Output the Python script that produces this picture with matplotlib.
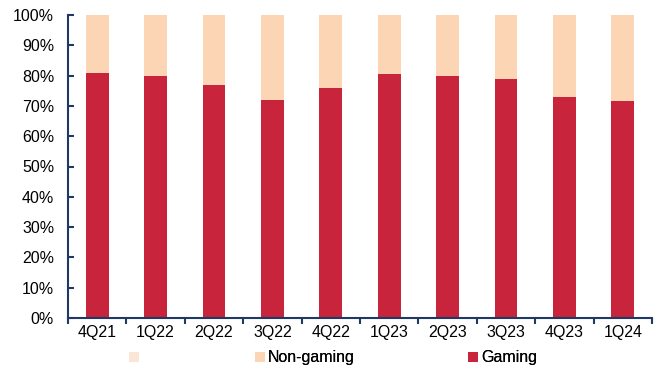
import matplotlib
matplotlib.use("Agg")
import matplotlib.pyplot as plt
from matplotlib.patches import Patch
import numpy as np

quarters = ["4Q21", "1Q22", "2Q22", "3Q22", "4Q22", "1Q23", "2Q23", "3Q23", "4Q23", "1Q24"]
gaming = [81.0, 80.0, 77.0, 72.0, 76.0, 80.5, 80.0, 78.8, 73.0, 71.5]
non_gaming = [100 - g for g in gaming]

red = "#C8243B"
peach = "#FCD5B5"
pale = "#FBE5D6"
navy = "#1F3864"

plt.rcParams["font.family"] = ["Liberation Sans", "DejaVu Sans"]
plt.rcParams["font.size"] = 11.5

fig = plt.figure(figsize=(6.6, 3.67), dpi=100)
ax = fig.add_axes([68/660, 49/367, 584/660, 303/367])

x = np.arange(len(quarters))
w = 0.39
ax.bar(x, gaming, width=w, color=red, edgecolor="none")
ax.bar(x, non_gaming, width=w, bottom=gaming, color=peach, edgecolor="none")

ax.set_xlim(-0.5, len(quarters) - 0.5)
ax.set_ylim(0, 100)
ax.set_yticks(np.arange(0, 101, 10))
ax.set_yticklabels([f"{v}%" for v in range(0, 101, 10)])
ax.tick_params(axis="y", direction="in", length=4, width=1.5, color=navy, pad=10)

ax.set_xticks(x)
ax.set_xticklabels(quarters)
ax.tick_params(axis="x", which="major", length=0, pad=5)
ax.set_xticks(np.arange(-0.5, len(quarters), 1.0), minor=True)
ax.tick_params(axis="x", which="minor", direction="out", length=4, width=1.5, color=navy)

for s in ["top", "right"]:
    ax.spines[s].set_visible(False)
for s in ["left", "bottom"]:
    ax.spines[s].set_color(navy)
    ax.spines[s].set_linewidth(1.5)

def add_leg(handle, label, xpos):
    leg = fig.legend([handle], [label], loc="center left", bbox_to_anchor=(xpos, 0.025),
                     frameon=False, handlelength=0.6, handleheight=0.6,
                     handletextpad=0.2, borderpad=0, borderaxespad=0, fontsize=11.5)
    fig.add_artist(leg)

add_leg(Patch(facecolor=pale, edgecolor="none"), "", 129/660)
add_leg(Patch(facecolor=peach, edgecolor="none"), "Non-gaming", 255/660)
add_leg(Patch(facecolor=red, edgecolor="none"), "Gaming", 468/660)

fig.savefig("out.png", dpi=100)
